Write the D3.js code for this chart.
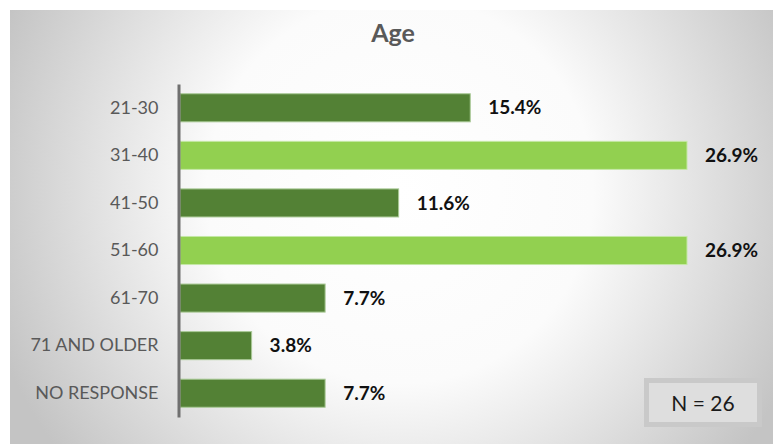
<!DOCTYPE html>
<html lang="en">
<head>
<meta charset="utf-8">
<script src="https://d3js.org/d3.v7.min.js"></script>
<style>
  body { margin: 0; background: #ffffff; }
  svg { display: block; }
</style>
</head>
<body>
<script>
var categories = ["21-30", "31-40", "41-50", "51-60", "61-70", "71 AND OLDER", "NO RESPONSE"];
var values = [15.4, 26.9, 11.6, 26.9, 7.7, 3.8, 7.7];
var highlight = [false, true, false, true, false, false, false];
var title = "Age";
var note = "N = 26";

var width = 777, height = 444;
var font = "Lato, 'Open Sans', sans-serif";

var svg = d3.select("body").append("svg")
    .attr("width", width)
    .attr("height", height);

var defs = svg.append("defs");
var grad = defs.append("radialGradient")
    .attr("id", "bg")
    .attr("gradientUnits", "userSpaceOnUse")
    .attr("cx", 400).attr("cy", 190).attr("r", 430);
grad.append("stop").attr("offset", "0%").attr("stop-color", "#ffffff");
grad.append("stop").attr("offset", "45%").attr("stop-color", "#fbfbfb");
grad.append("stop").attr("offset", "100%").attr("stop-color", "#c4c4c4");

svg.append("rect")
    .attr("x", 10).attr("y", 10)
    .attr("width", 763).attr("height", 434)
    .attr("fill", "url(#bg)");

svg.append("text")
    .attr("x", 393).attr("y", 42)
    .attr("text-anchor", "middle")
    .style("font-family", font)
    .style("font-size", "25px")
    .style("font-weight", "bold")
    .style("fill", "#595959")
    .text(title);

var x = d3.scaleLinear().domain([0, 26.9]).range([180, 687]);
var y = d3.scaleBand().domain(categories).range([84, 417]).paddingInner(0.41).paddingOuter(0.205);

svg.selectAll("rect.bar")
    .data(values)
    .enter().append("rect")
    .attr("class", "bar")
    .attr("x", x(0))
    .attr("y", function(d, i) { return y(categories[i]); })
    .attr("width", function(d) { return x(d) - x(0); })
    .attr("height", y.bandwidth())
    .attr("fill", function(d, i) { return highlight[i] ? "#92d050" : "#538135"; })
    .attr("stroke", function(d, i) { return highlight[i] ? "#c5e8a6" : "#a9c996"; })
    .attr("stroke-width", 1);

svg.selectAll("text.val")
    .data(values)
    .enter().append("text")
    .attr("class", "val")
    .attr("x", function(d) { return x(d) + 18; })
    .attr("y", function(d, i) { return y(categories[i]) + y.bandwidth() / 2; })
    .attr("dy", "0.35em")
    .style("font-family", font)
    .style("font-size", "19px")
    .style("font-weight", "bold")
    .style("fill", "#111")
    .text(function(d) { return d.toFixed(1) + "%"; });

var axis = d3.axisLeft(y).tickSize(0).tickPadding(20);
var g = svg.append("g")
    .attr("transform", "translate(178.5,0)")
    .call(axis);
g.select(".domain").attr("stroke", "#707070").attr("stroke-width", 3);
g.selectAll("text")
    .style("font-family", font)
    .style("font-size", "18px")
    .style("fill", "#595959");

svg.append("rect")
    .attr("x", 646.5).attr("y", 380.5)
    .attr("width", 113).attr("height", 44)
    .attr("fill", "#dedede")
    .attr("stroke", "#c9c9c9")
    .attr("stroke-width", 5);
svg.append("text")
    .attr("x", 703).attr("y", 404)
    .attr("dy", "0.35em")
    .attr("text-anchor", "middle")
    .style("font-family", font)
    .style("font-size", "21px")
    .style("fill", "#1a1a1a")
    .text(note);
</script>
</body>
</html>
